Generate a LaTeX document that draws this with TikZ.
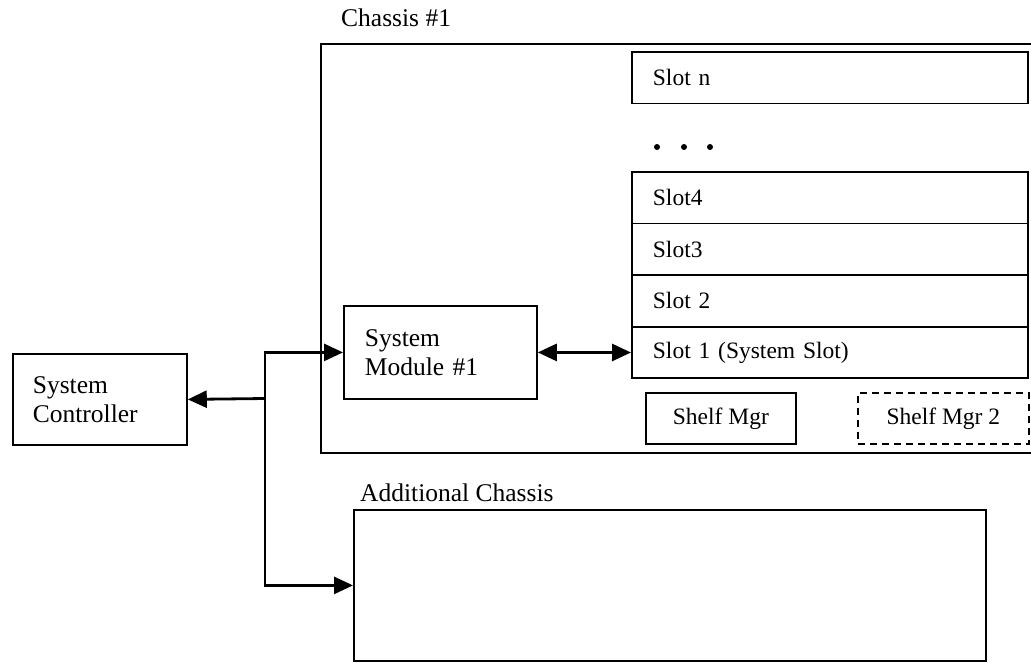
\documentclass[tikz,border=0pt]{standalone}
\usepackage{fontspec}
\setmainfont{Liberation Serif}
\usetikzlibrary{arrows.meta,positioning}

\begin{document}
\begin{tikzpicture}[x=1pt,y=-1pt,
	box/.style={draw,line width=1.8pt,inner sep=0pt,anchor=north west},
	big/.style={font=\fontsize{25.5}{29}\selectfont},
	small/.style={font=\fontsize{23.5}{28}\selectfont},
	slotbox/.style={box,small,align=left,inner xsep=21pt,text width=354pt,minimum height=51.6pt},
	tip/.tip={Triangle[length=19pt,width=17pt]},
	link/.style={line width=2.8pt,-tip}]
		\useasboundingbox (0,0) rectangle (1031,662);
		% chassis frames
		\node[box,line width=2.4pt,minimum width=720pt,minimum height=409pt] (chassis) at (320,43) {};
		\node[big,anchor=west,inner sep=0pt] (chassislbl) at (341,18) {Chassis \#1};
		\node[box,minimum width=632pt,minimum height=151pt] (extra) at (353,509) {};
		\node[big,anchor=west,inner sep=0pt] (extralbl) at (360,493) {Additional Chassis};
		% controller and module
		\node[box,big,align=left,inner xsep=20pt,text width=134pt,minimum height=91pt] (ctrl) at (12,353) {System\\Controller};
		\node[box,big,align=left,inner xsep=21pt,text width=151pt,minimum height=93pt] (module) at (343,305) {System\\Module \#1};
		% slots
		\node[slotbox] (slotn) at (631,51) {Slot n};
		\foreach \x in {657,684,710} % the dots
		\fill (\x,147) circle (3pt);
		\foreach \name/\txt [count=\i] in {slotiv/Slot4,slotiii/Slot3,slotii/Slot 2,sloti/Slot 1 (System Slot)}
		\node[slotbox] (\name) at (631,{171+51.6*(\i-1)}) {\txt};
		% shelf managers
		\node[box,small,minimum width=150pt,minimum height=51pt] (shelf) at (645,392) {Shelf Mgr};
		\node[box,small,dash pattern=on 7pt off 5pt,minimum width=171pt,minimum height=51pt] (shelfii) at (857,392) {Shelf Mgr 2};
		% links
		\coordinate (bus) at (265,398.5);
		\draw[link] (bus) -- (ctrl.east);
		\draw[link] (bus) |- (module.west);
		\draw[link] (bus) |- (extra.west);
		\draw[link,tip-tip] (module.east) -- (sloti.west);
\end{tikzpicture}
\end{document}
